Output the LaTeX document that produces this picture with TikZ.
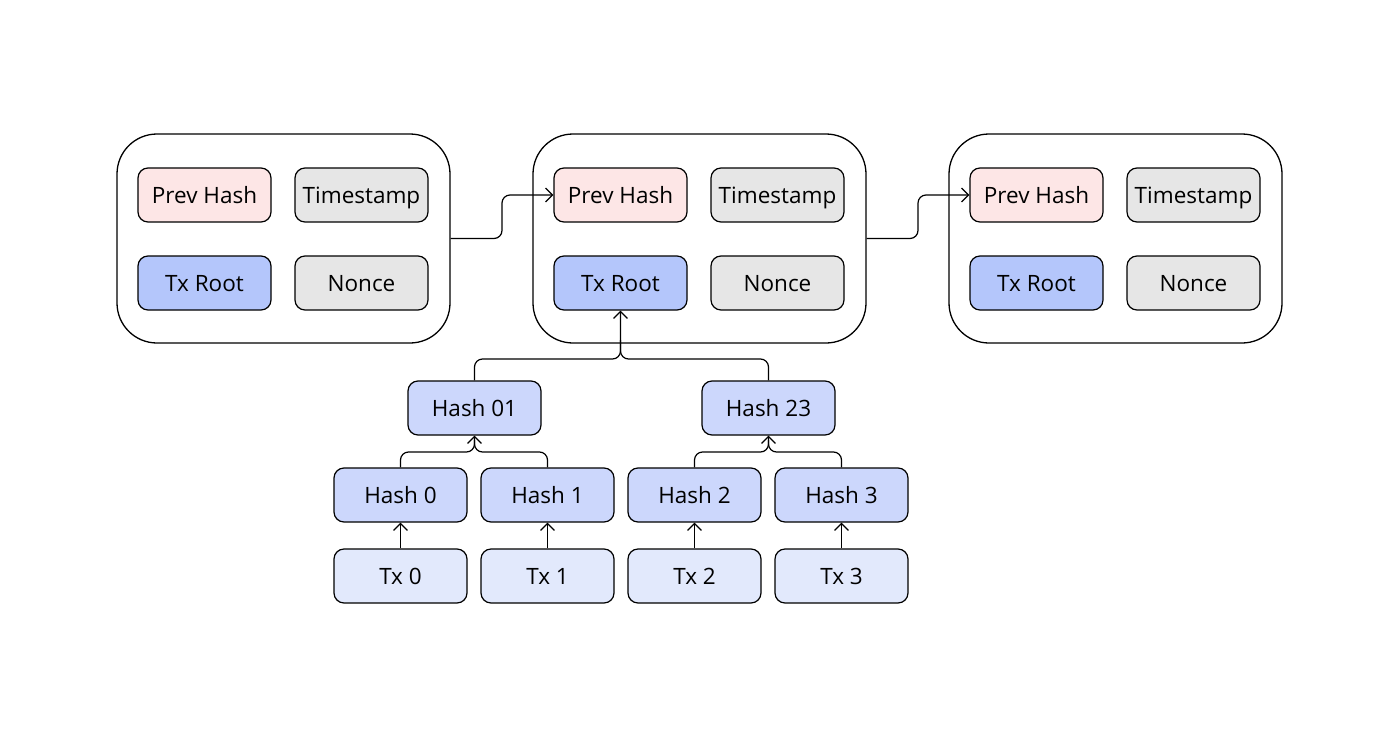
\documentclass[tikz,border=0pt]{standalone}
\usepackage{fontspec}
\setmainfont{Open Sans}
\usetikzlibrary{arrows.meta}
\definecolor{pinkf}{HTML}{FDE6E6}
\definecolor{greyf}{HTML}{E6E6E6}
\definecolor{rootf}{HTML}{B4C6FB}
\definecolor{hashf}{HTML}{CCD7FC}
\definecolor{txf}{HTML}{E2E9FC}
\tikzset{
  blockbox/.style={draw=black, line width=1.3pt, rounded corners=40pt, minimum width=333pt, minimum height=209pt, inner sep=0pt},
  fieldbox/.style={draw=black, line width=1.2pt, rounded corners=10pt, minimum width=133pt, minimum height=54pt, inner sep=0pt, text height=16pt, text depth=0pt, font=\fontsize{22.5}{26}\selectfont},
  prev/.style={fieldbox, fill=pinkf},
  grey/.style={fieldbox, fill=greyf},
  root/.style={fieldbox, fill=rootf},
  hashbox/.style={fieldbox, fill=hashf},
  txbox/.style={fieldbox, fill=txf},
  conn/.style={draw=black, line width=1.2pt, rounded corners=8pt, -{Straight Barb[length=7pt, width=14pt]}},
  plain/.style={draw=black, line width=1.2pt, rounded corners=8pt}
}
\begin{document}
\begin{tikzpicture}[x=1pt, y=-1pt]
\useasboundingbox (0,0) rectangle (1400,739);
% blocks
\node[blockbox] (b1) at (283.5,238.5) {};
\node[blockbox] (b2) at (699.5,238.5) {};
\node[blockbox] (b3) at (1115.5,238.5) {};
% block 1
\node[prev] (p1) at (204.5,195) {Prev Hash};
\node[grey] (t1) at (361.5,195) {Timestamp};
\node[root] (r1) at (204.5,283) {Tx Root};
\node[grey] (n1) at (361.5,283) {Nonce};
% block 2
\node[prev] (p2) at (620.5,195) {Prev Hash};
\node[grey] (t2) at (777.5,195) {Timestamp};
\node[root] (r2) at (620.5,283) {Tx Root};
\node[grey] (n2) at (777.5,283) {Nonce};
% block 3
\node[prev] (p3) at (1036.5,195) {Prev Hash};
\node[grey] (t3) at (1193.5,195) {Timestamp};
\node[root] (r3) at (1036.5,283) {Tx Root};
\node[grey] (n3) at (1193.5,283) {Nonce};
% chain links
\draw[conn] (b1.east) -- (502,238.5) -- (502,195) -- (p2.west);
\draw[conn] (b2.east) -- (918,238.5) -- (918,195) -- (p3.west);
% merkle tree
\node[hashbox] (h01) at (474.5,408) {Hash 01};
\node[hashbox] (h23) at (768.5,408) {Hash 23};
\node[hashbox] (h0) at (400.5,495) {Hash 0};
\node[hashbox] (h1) at (547.5,495) {Hash 1};
\node[hashbox] (h2) at (694.5,495) {Hash 2};
\node[hashbox] (h3) at (841.5,495) {Hash 3};
\node[txbox] (x0) at (400.5,576) {Tx 0};
\node[txbox] (x1) at (547.5,576) {Tx 1};
\node[txbox] (x2) at (694.5,576) {Tx 2};
\node[txbox] (x3) at (841.5,576) {Tx 3};
% tree connectors
\draw[conn] (h01.north) -- (474.5,359) -- (620.5,359) -- (r2.south);
\draw[plain] (h23.north) -- (768.5,359) -- (620.5,359) -- (620.5,340);
\draw[conn] (h0.north) -- (400.5,452) -- (474.5,452) -- (h01.south);
\draw[plain] (h1.north) -- (547.5,452) -- (474.5,452) -- (474.5,440);
\draw[conn] (h2.north) -- (694.5,452) -- (768.5,452) -- (h23.south);
\draw[plain] (h3.north) -- (841.5,452) -- (768.5,452) -- (768.5,440);
\draw[conn] (x0) -- (h0);
\draw[conn] (x1) -- (h1);
\draw[conn] (x2) -- (h2);
\draw[conn] (x3) -- (h3);
\end{tikzpicture}
\end{document}
